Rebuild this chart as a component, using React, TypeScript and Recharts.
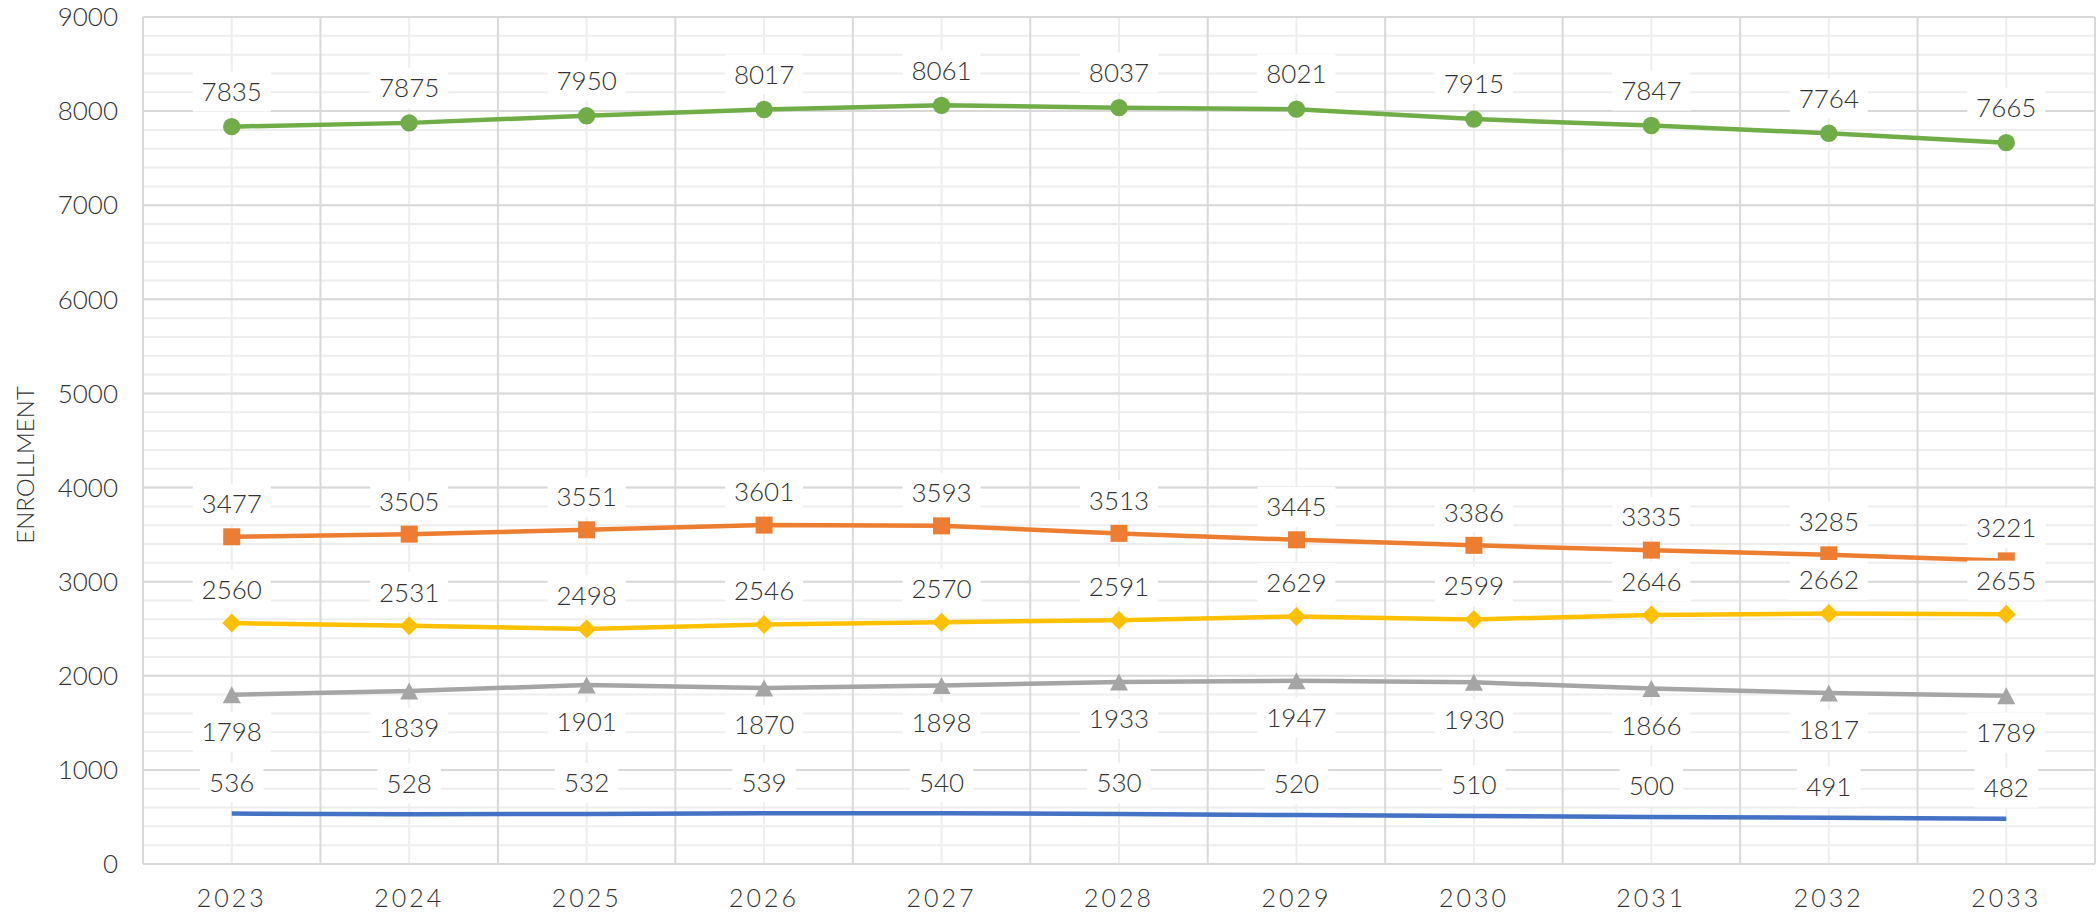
import React from 'react';
import { LineChart, Line, XAxis, YAxis, CartesianGrid, LabelList } from 'recharts';

const years = ['2023', '2024', '2025', '2026', '2027', '2028', '2029', '2030', '2031', '2032', '2033'];
const blueVals = [536, 528, 532, 539, 540, 530, 520, 510, 500, 491, 482];
const orangeVals = [3477, 3505, 3551, 3601, 3593, 3513, 3445, 3386, 3335, 3285, 3221];
const yellowVals = [2560, 2531, 2498, 2546, 2570, 2591, 2629, 2599, 2646, 2662, 2655];
const grayVals = [1798, 1839, 1901, 1870, 1898, 1933, 1947, 1930, 1866, 1817, 1789];
const greenVals = [7835, 7875, 7950, 8017, 8061, 8037, 8021, 7915, 7847, 7764, 7665];

const yMajorTicks = [0, 1000, 2000, 3000, 4000, 5000, 6000, 7000, 8000, 9000];
const yMinorTicks = Array.from({ length: 46 }, (_, i) => i * 200);
const xCenterTicks = years.map((_, i) => i);
const xBoundTicks = Array.from({ length: 12 }, (_, i) => i - 0.5);

const data = years.map((year, i) => ({
  idx: i,
  year,
  blue: blueVals[i],
  orange: orangeVals[i],
  yellow: yellowVals[i],
  gray: grayVals[i],
  green: greenVals[i],
}));

const FONT = 'Lato, "Open Sans", sans-serif';
const TEXT = '#333333';
const WEIGHT = 300;

const BLUE = '#4472C4';
const ORANGE = '#ED7D31';
const GRAY = '#A5A5A5';
const YELLOW = '#FFC000';
const GREEN = '#70AD47';

const circleDot = (color: string) => (p: any) => (
  <circle key={`c-${p.index}`} cx={p.cx} cy={p.cy} r={8.7} fill={color} />
);
const squareDot = (color: string) => (p: any) => (
  <rect key={`s-${p.index}`} x={p.cx - 8.5} y={p.cy - 8.5} width={17} height={17} fill={color} />
);
const diamondDot = (color: string) => (p: any) => (
  <polygon
    key={`d-${p.index}`}
    points={`${p.cx},${p.cy - 9.5} ${p.cx + 9.5},${p.cy} ${p.cx},${p.cy + 9.5} ${p.cx - 9.5},${p.cy}`}
    fill={color}
  />
);
const triangleDot = (color: string) => (p: any) => (
  <polygon
    key={`t-${p.index}`}
    points={`${p.cx},${p.cy - 8.5} ${p.cx + 9},${p.cy + 8.5} ${p.cx - 9},${p.cy + 8.5}`}
    fill={color}
  />
);

const makeLabel = (offset: number) => (props: any) => {
  const x = props.x ?? props.viewBox?.x;
  const y = props.y ?? props.viewBox?.y;
  const value = props.value;
  if (x == null || y == null) return null;
  const cy = y + offset;
  const w = String(value).length * 14.5 + 20;
  const h = 40;
  return (
    <g>
      <rect x={x - w / 2} y={cy - h / 2} width={w} height={h} fill="#ffffff" />
      <text
        x={x}
        y={cy}
        dy="0.36em"
        textAnchor="middle"
        fill={TEXT}
        fontSize={26}
        fontWeight={WEIGHT}
        fontFamily={FONT}
      >
        {value}
      </text>
    </g>
  );
};

const YTitle = () => (
  <text
    transform="translate(25,465) rotate(-90)"
    textAnchor="middle"
    dy="0.36em"
    fill={TEXT}
    fontSize={24}
    fontWeight={WEIGHT}
    fontFamily={FONT}
  >
    ENROLLMENT
  </text>
);

export default function App() {
  return (
    <div style={{ position: 'absolute', left: 0, top: 0, background: '#fff' }}>
      <LineChart
        width={2100}
        height={914}
        data={data}
        margin={{ top: 17, right: 5, bottom: 0, left: 0 }}
      >
        <XAxis
          xAxisId={0}
          dataKey="idx"
          type="number"
          domain={[-0.5, 10.5]}
          allowDataOverflow
          ticks={xCenterTicks}
          tickFormatter={(v: number) => years[v] ?? ''}
          tickLine={false}
          axisLine={false}
          tickSize={0}
          tickMargin={25}
          height={50}
          interval={0}
          tick={{ fill: TEXT, fontSize: 25, fontFamily: FONT, fontWeight: WEIGHT, letterSpacing: 3 }}
        />
        <XAxis
          xAxisId="b"
          dataKey="idx"
          type="number"
          domain={[-0.5, 10.5]}
          allowDataOverflow
          ticks={xBoundTicks}
          interval={0}
          hide
        />
        <YAxis
          yAxisId={0}
          type="number"
          domain={[0, 9000]}
          ticks={yMajorTicks}
          interval={0}
          tickLine={false}
          axisLine={false}
          tickSize={0}
          tickMargin={25}
          width={143}
          tick={{ fill: TEXT, fontSize: 26, fontFamily: FONT, fontWeight: WEIGHT }}
          label={{ content: () => <YTitle /> }}
        />
        <YAxis
          yAxisId="m"
          type="number"
          domain={[0, 9000]}
          allowDataOverflow
          ticks={yMinorTicks}
          interval={0}
          hide
        />
        <CartesianGrid xAxisId={0} yAxisId="m" stroke="#eeeeee" strokeWidth={2} />
        <CartesianGrid xAxisId="b" yAxisId={0} stroke="#d9d9d9" strokeWidth={2} />

        <Line dataKey="blue" stroke={BLUE} strokeWidth={4.5} dot={false} activeDot={false} isAnimationActive={false} />
        <Line dataKey="gray" stroke={GRAY} strokeWidth={4.5} dot={triangleDot(GRAY)} activeDot={false} isAnimationActive={false} />
        <Line dataKey="yellow" stroke={YELLOW} strokeWidth={4.5} dot={diamondDot(YELLOW)} activeDot={false} isAnimationActive={false} />
        <Line dataKey="orange" stroke={ORANGE} strokeWidth={4.5} dot={squareDot(ORANGE)} activeDot={false} isAnimationActive={false} />
        <Line dataKey="green" stroke={GREEN} strokeWidth={4.5} dot={circleDot(GREEN)} activeDot={false} isAnimationActive={false} />

        <Line dataKey="blue" stroke="none" dot={false} activeDot={false} isAnimationActive={false}>
          <LabelList dataKey="blue" content={makeLabel(-31)} />
        </Line>
        <Line dataKey="gray" stroke="none" dot={false} activeDot={false} isAnimationActive={false}>
          <LabelList dataKey="gray" content={makeLabel(37)} />
        </Line>
        <Line dataKey="yellow" stroke="none" dot={false} activeDot={false} isAnimationActive={false}>
          <LabelList dataKey="yellow" content={makeLabel(-33.5)} />
        </Line>
        <Line dataKey="orange" stroke="none" dot={false} activeDot={false} isAnimationActive={false}>
          <LabelList dataKey="orange" content={makeLabel(-33)} />
        </Line>
        <Line dataKey="green" stroke="none" dot={false} activeDot={false} isAnimationActive={false}>
          <LabelList dataKey="green" content={makeLabel(-35)} />
        </Line>
      </LineChart>
    </div>
  );
}
